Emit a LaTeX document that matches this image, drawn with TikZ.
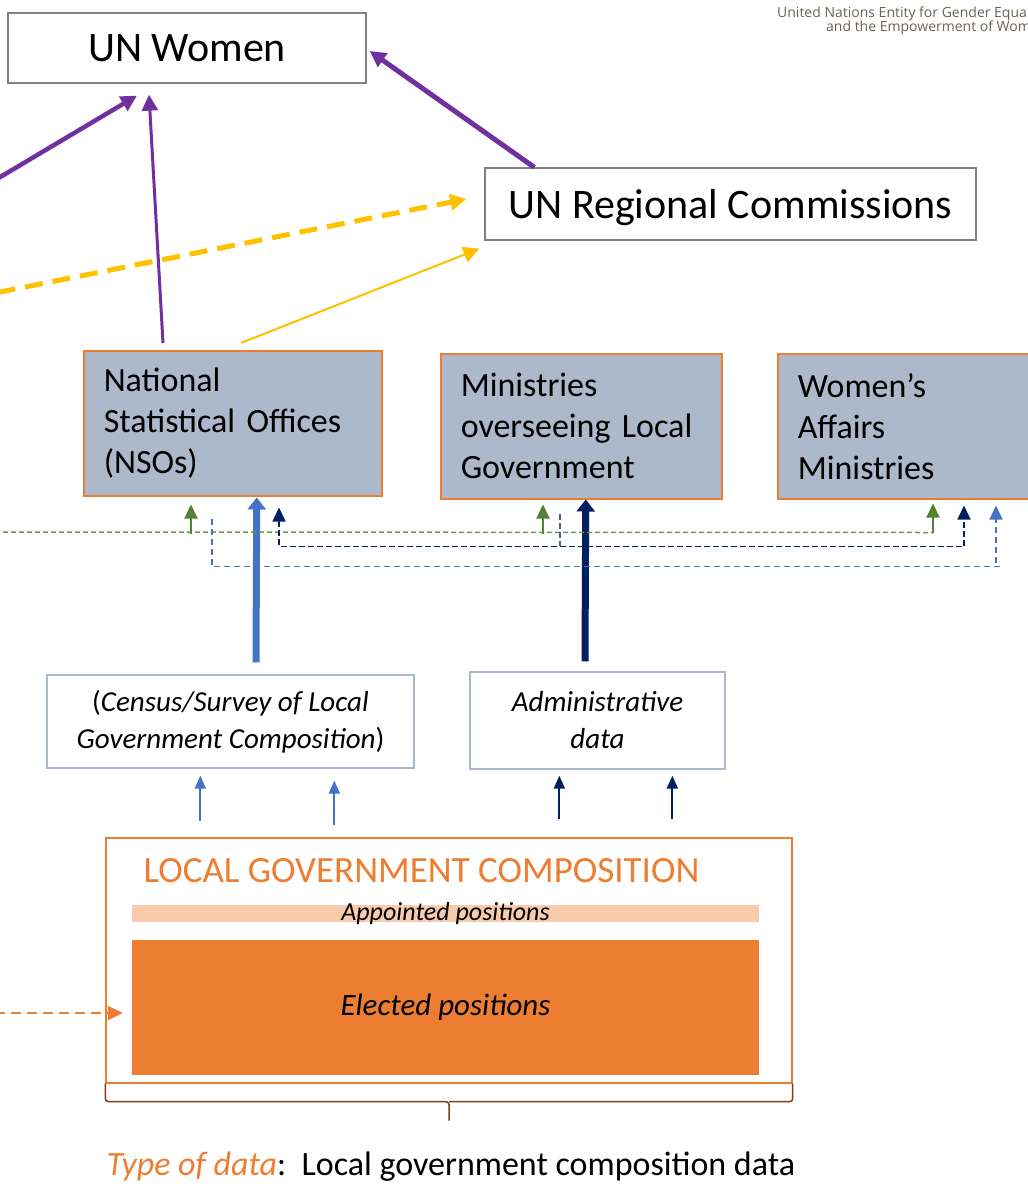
\documentclass[tikz,border=0pt]{standalone}
\usepackage{fontspec}
\setmainfont{Carlito}
\newfontfamily\logofont{Open Sans}
\usetikzlibrary{arrows.meta,calc}
\definecolor{unpurple}{HTML}{7030A0}
\definecolor{ungold}{HTML}{FFC000}
\definecolor{lgcorange}{HTML}{ED7D31}
\definecolor{apptfill}{HTML}{F8CBAD}
\definecolor{officefill}{HTML}{ADB9CA}
\definecolor{boxgray}{HTML}{808080}
\definecolor{srcedge}{HTML}{A9B7D1}
\definecolor{midblue}{HTML}{4472C4}
\definecolor{darknavy}{HTML}{002060}
\definecolor{leafgreen}{HTML}{548235}
\definecolor{dashgreen}{HTML}{70964A}
\definecolor{bracebrown}{HTML}{843C0C}
\definecolor{logogray}{HTML}{6B6257}

\begin{document}
\begin{tikzpicture}[x=1pt, y=-1pt,
	unbox/.style={draw=boxgray, line width=1.3pt, font=\fontsize{42}{50}\selectfont},
	officebox/.style={draw=lgcorange, fill=officefill, line width=1.5pt, anchor=north west, align=left, inner xsep=20pt, minimum height=145pt, font=\fontsize{34}{41}\selectfont},
	srcbox/.style={draw=srcedge, line width=1.3pt, align=center, font=\fontsize{29}{37}\selectfont},
	purplearrow/.style={draw=unpurple, line width=4.5pt, -{Triangle[length=16pt,width=16pt]}},
	goldarrow/.style={draw=ungold, -{Triangle[length=16pt,width=16pt]}},
	bigarrow/.style={line width=7pt, -{Triangle[length=12pt,width=18pt]}},
	smallarrow/.style={line width=2pt, -{Triangle[length=13pt,width=11pt]}},
	greenarrow/.style={draw=leafgreen, line width=2pt, -{Triangle[length=14pt,width=13pt]}},
	greendash/.style={draw=dashgreen, line width=1.5pt, dash pattern=on 5pt off 3pt},
	navydash/.style={draw=darknavy, line width=1.5pt, dash pattern=on 6pt off 3pt},
	bluedash/.style={draw=midblue, line width=1.3pt, dash pattern=on 6pt off 4pt}]
	\useasboundingbox (0,0) rectangle (1028,1189);
	\clip (0,0) rectangle (1028,1189);

	% logo
	\node[anchor=base west, inner sep=0, text=logogray, font=\logofont\fontsize{14}{16}\selectfont] (logoa) at (777,17) {United Nations Entity for Gender Equality};
	\node[anchor=base west, inner sep=0, text=logogray, font=\logofont\fontsize{14}{16}\selectfont] (logob) at (826,31) {and the Empowerment of Women};

	% top level
	\node[unbox, minimum width=358pt, minimum height=70pt] (unw) at (187,48) {UN Women};
	\node[unbox, minimum width=491pt, minimum height=72pt, text depth=0pt] (unrc) at (730.5,204) {UN Regional Commissions};

	% national offices
	\node[officebox, text width=258pt] (nso) at (83,350) {National\\Statistical Offices\\(NSOs)};
	\node[officebox, text width=241pt] (mlg) at (440,353) {Ministries\\overseeing Local\\Government};
	\node[officebox, text width=250pt] (wam) at (777,353) {Women’s\\Affairs\\Ministries};

	% data sources
	\node[srcbox, minimum width=367pt, minimum height=93pt] (census) at (230.5,721.5) {(\textit{Census/Survey of Local}\\\textit{Government Composition})};
	\node[srcbox, minimum width=255pt, minimum height=97pt] (admin) at (597.5,720.5) {\textit{Administrative}\\\textit{data}};

	% local government composition
	\node[draw=lgcorange, line width=1.3pt, minimum width=686pt, minimum height=245pt] (lgc) at (449,960.5) {};
	\node[anchor=west, text=lgcorange, font=\fontsize{37}{44}\selectfont] (lgctitle) at (140,871) {LOCAL GOVERNMENT COMPOSITION};
	\node[fill=apptfill, minimum width=627pt, minimum height=17pt, inner sep=0] (appt) at (445.5,913.5) {};
	\node[font=\fontsize{26}{30}\selectfont\itshape] (appttext) at (appt.center) {Appointed positions};
	\node[fill=lgcorange, minimum width=627pt, minimum height=135pt, font=\fontsize{31}{37}\selectfont\itshape] (elect) at (445.5,1007.5) {Elected positions};
	\node[anchor=base west, font=\fontsize{34}{40}\selectfont] (typedata) at (103,1175) {\textcolor{lgcorange}{\textit{Type of data}}:\ \ Local government composition data};

	% brace
	\draw[bracebrown, line width=1.5pt, rounded corners=3pt] (lgc.south west) -- ++(0,18) -- ($(lgc.south)+(0,18)$) -- ++(0,19);
	\draw[bracebrown, line width=1.5pt, rounded corners=3pt] (lgc.south east) -- ++(0,18) -- ($(lgc.south)+(0,18)$);

	% reporting lines
	\coordinate (leftin) at (-30,195);
	\coordinate (goldin) at (-30,298);
	\draw[purplearrow] (leftin) -- ($(unw.south)+(-50,12)$);
	\draw[purplearrow, line width=3pt] ($(nso.north west)+(80,-7)$) -- ($(unw.south)+(-38,11)$);
	\draw[purplearrow, line width=5pt] ($(unrc.north west)+(50,0)$) -- ($(unw.east)+(3,3)$);
	\draw[goldarrow, line width=5pt, dash pattern=on 18pt off 10pt] (goldin) -- ($(unrc.west)+(-18,-5)$);
	\draw[goldarrow, line width=2pt] ($(nso.north west)+(158,-7)$) -- ($(unrc.south west)+(-5,8)$);

	% data flows
	\draw[bigarrow, midblue] ($(census.north)+(25.5,-12)$) -- ($(nso.south)+(24,1)$);
	\draw[bigarrow, darknavy] ($(admin.north)+(-12.5,-10)$) -- ($(mlg.south)+(4.5,0)$);
	\draw[smallarrow, midblue] ($(lgc.north west)+(95,-16)$) -- ($(census.south west)+(154,7)$);
	\draw[smallarrow, midblue] ($(lgc.north west)+(229,-12)$) -- ($(census.south west)+(288,12)$);
	\draw[smallarrow, darknavy] ($(lgc.north west)+(454,-18)$) -- ($(admin.south west)+(90,6)$);
	\draw[smallarrow, darknavy] ($(lgc.north west)+(567,-18)$) -- ($(admin.south west)+(203,6)$);
	\coordinate (orangein) at (-5,1013);
	\draw[lgcorange, line width=2pt, dash pattern=on 10pt off 6pt, -{Triangle[length=15pt,width=14pt]}] (orangein) -- ($(elect.west)+(-9,5.5)$);

	% sharing between offices
	\coordinate (greenin) at (-5,532);
	\draw[greendash] (greenin) -- ($(wam.south west)+(156,33)$);
	\draw[greenarrow] ($(nso.south west)+(108,37)$) -- ($(nso.south west)+(108,8)$);
	\draw[greenarrow] ($(mlg.south west)+(103,34)$) -- ($(mlg.south west)+(103,5)$);
	\draw[greenarrow] ($(wam.south west)+(156,33)$) -- ($(wam.south west)+(156,4)$);
	\draw[navydash, {Triangle[length=14pt,width=13pt]}-{Triangle[length=14pt,width=13pt]}] ($(nso.south west)+(196,11)$) -- ++(0,39) -| ($(wam.south west)+(187,6)$);
	\draw[navydash, draw=darknavy!70] ($(mlg.south west)+(120,14)$) -- ++(0,32);
	\draw[bluedash] ($(nso.south west)+(129,22)$) |- ($(wam.south west)+(226,67)$);
	\draw[bluedash, -{Triangle[length=14pt,width=13pt]}] ($(wam.south west)+(219,63)$) -- ($(wam.south west)+(219,6)$);
\end{tikzpicture}
\end{document}
